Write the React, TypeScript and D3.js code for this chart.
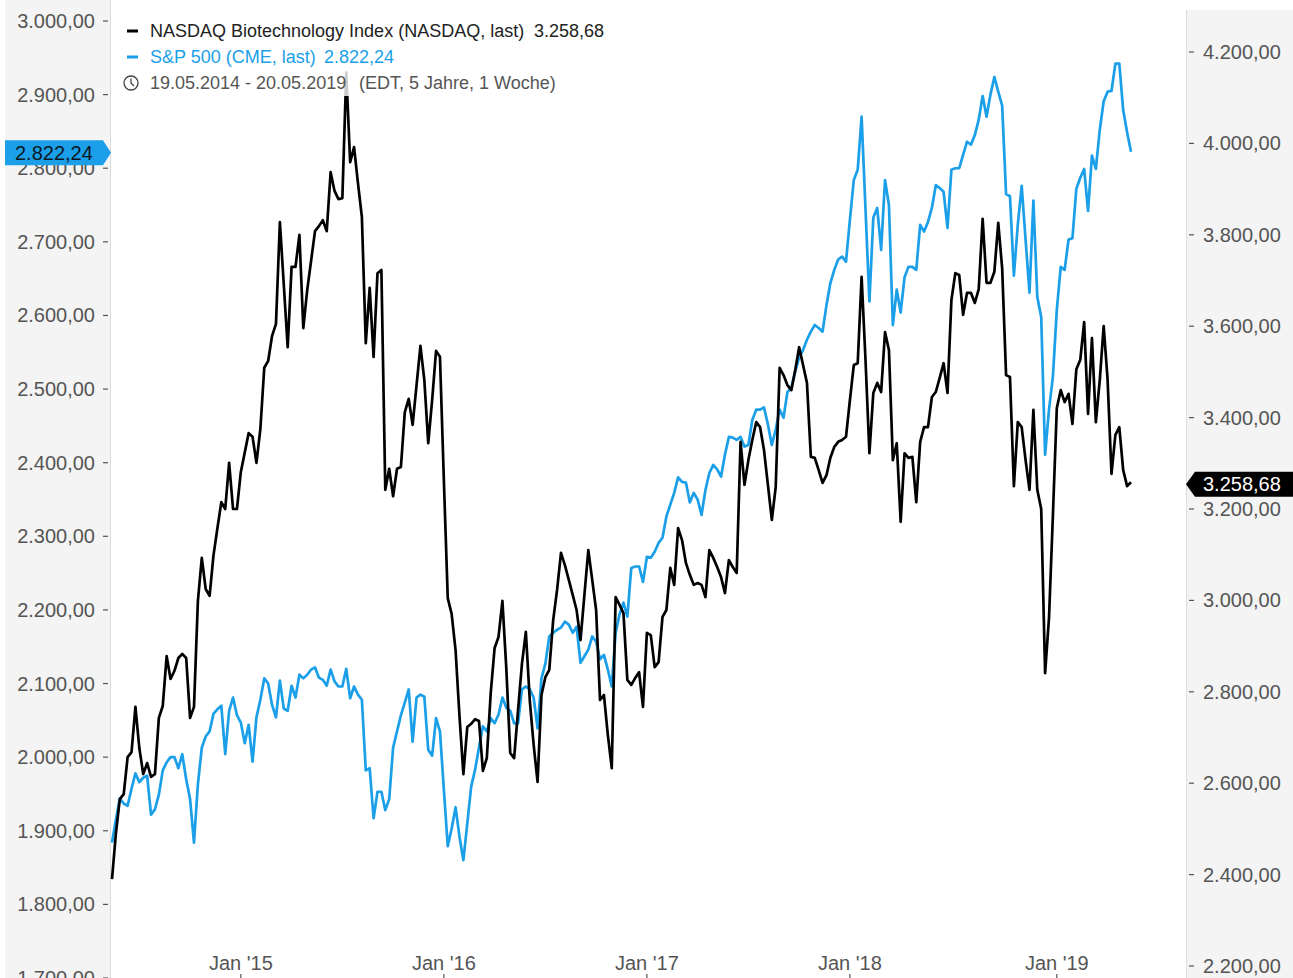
import React from "react";
import * as d3 from "d3";

// ---- Data (weekly closes, week index since 19.05.2014) ----
const NBI_WEEKS_VALUES: [number, number][] = [
  [0,2390],[1,2490],[2,2565],[3,2576],[4,2657],[5,2668],[6,2767],[7,2677],[8,2620],[9,2644],[10,2614],[11,2620],[12,2743],[13,2769],[14,2878],[15,2828],[16,2846],[17,2874],[18,2883],[19,2874],[20,2743],[21,2767],[22,2999],[23,3093],[24,3025],[25,3010],[26,3099],[27,3158],[28,3215],[29,3200],[30,3301],[31,3200],[32,3200],[33,3281],[35,3366],[36,3358],[37,3301],[38,3375],[39,3509],[40,3524],[41,3579],[42,3605],[43,3828],[45,3554],[46,3730],[47,3730],[48,3800],[49,3596],[50,3679],[52,3808],[53,3819],[54,3832],[55,3808],[56,3937],[57,3896],[58,3878],[59,3880],[60,4155],[61,3959],[62,3992],[63,3913],[64,3839],[65,3563],[66,3684],[67,3533],[68,3716],[69,3723],[70,3242],[71,3288],[72,3228],[73,3288],[74,3292],[75,3412],[76,3441],[77,3384],[79,3557],[80,3482],[81,3344],[82,3438],[83,3546],[84,3533],[85,3263],[86,3005],[87,2970],[88,2891],[89,2747],[90,2620],[91,2723],[92,2730],[93,2740],[94,2736],[95,2627],[96,2655],[97,2797],[98,2896],[99,2920],[100,2999],[101,2850],[102,2666],[103,2655],[104,2760],[105,2861],[106,2931],[107,2782],[108,2684],[109,2603],[110,2793],[111,2832],[112,2848],[113,2957],[114,3023],[115,3104],[116,3077],[117,3045],[118,3012],[119,2979],[120,2913],[121,3012],[122,3110],[123,3045],[124,2979],[125,2782],[126,2793],[127,2706],[128,2633],[129,3007],[130,2990],[131,2972],[132,2826],[133,2815],[134,2830],[135,2843],[136,2767],[137,2929],[138,2924],[139,2854],[140,2865],[141,2964],[142,2979],[143,3071],[144,3034],[145,3158],[146,3132],[147,3082],[148,3056],[149,3034],[150,3038],[151,3034],[152,3007],[153,3110],[154,3093],[155,3073],[156,3051],[157,3016],[158,3088],[159,3073],[160,3060],[161,3347],[162,3253],[163,3307],[164,3351],[165,3390],[166,3379],[167,3329],[168,3253],[169,3176],[170,3248],[171,3509],[172,3493],[173,3471],[174,3460],[175,3504],[176,3554],[177,3515],[178,3476],[179,3314],[180,3312],[181,3285],[182,3257],[183,3274],[184,3312],[185,3336],[186,3347],[187,3351],[188,3358],[189,3438],[190,3515],[191,3519],[192,3708],[193,3526],[194,3322],[195,3454],[196,3476],[197,3456],[198,3587],[199,3548],[200,3307],[201,3344],[202,3172],[203,3322],[204,3312],[205,3314],[206,3215],[207,3347],[208,3379],[209,3379],[210,3445],[211,3456],[212,3487],[213,3519],[214,3454],[215,3657],[216,3716],[217,3712],[218,3625],[219,3673],[220,3673],[221,3651],[222,3681],[223,3835],[224,3695],[225,3695],[226,3719],[227,3826],[228,3727],[229,3493],[230,3489],[231,3250],[232,3390],[233,3379],[234,3307],[235,3242],[236,3417],[237,3242],[238,3200],[239,2841],[240,2962],[241,3187],[242,3421],[243,3460],[244,3434],[245,3452],[246,3386],[247,3506],[248,3526],[249,3609],[250,3408],[251,3574],[252,3390],[253,3482],[254,3600],[255,3484],[256,3277],[257,3362],[258,3379],[259,3285],[260,3250],[261,3258.68]
];

const SP_WEEKS_VALUES: [number, number][] = [
  [0,1884],[1,1915],[2,1944],[3,1937],[4,1934],[5,1957],[6,1978],[7,1966],[8,1972],[9,1975],[10,1922],[11,1929],[12,1949],[13,1982],[14,1993],[15,2000],[16,2000],[17,1985],[18,2004],[19,1970],[20,1943],[21,1884],[22,1963],[23,2013],[24,2028],[25,2035],[26,2059],[27,2065],[28,2070],[29,2004],[30,2063],[31,2081],[32,2057],[33,2047],[34,2019],[35,2044],[36,1994],[37,2054],[38,2078],[39,2107],[40,2100],[41,2071],[42,2054],[43,2104],[44,2066],[45,2063],[46,2097],[47,2081],[48,2112],[49,2107],[50,2112],[51,2119],[52,2122],[53,2108],[54,2105],[55,2097],[56,2119],[57,2103],[58,2096],[59,2096],[60,2120],[61,2080],[62,2096],[63,2085],[64,2078],[65,1982],[66,1985],[67,1917],[68,1953],[69,1953],[70,1928],[71,1943],[72,2013],[73,2035],[74,2057],[75,2074],[76,2092],[77,2021],[78,2081],[79,2085],[80,2082],[81,2010],[82,2002],[83,2053],[84,2035],[85,1956],[86,1879],[87,1903],[88,1932],[89,1892],[90,1860],[91,1910],[92,1960],[93,1983],[94,2013],[95,2042],[96,2035],[97,2053],[98,2046],[99,2058],[100,2081],[101,2067],[102,2063],[103,2046],[104,2046],[105,2092],[106,2096],[107,2092],[108,2081],[109,2039],[110,2107],[111,2127],[112,2164],[113,2169],[114,2173],[115,2176],[116,2184],[117,2180],[118,2169],[119,2177],[120,2128],[121,2137],[122,2146],[123,2164],[124,2157],[125,2133],[126,2139],[127,2119],[128,2096],[129,2169],[130,2194],[131,2210],[132,2191],[133,2257],[134,2259],[135,2259],[136,2238],[137,2272],[138,2271],[139,2279],[140,2291],[141,2298],[142,2327],[143,2343],[144,2359],[145,2380],[146,2374],[147,2373],[148,2346],[149,2359],[150,2350],[151,2329],[152,2363],[153,2386],[154,2397],[155,2391],[156,2381],[157,2411],[158,2435],[159,2434],[160,2431],[161,2435],[162,2422],[163,2424],[164,2458],[165,2472],[166,2472],[167,2475],[168,2452],[169,2424],[170,2445],[171,2472],[172,2461],[173,2496],[174,2502],[175,2524],[176,2543],[177,2553],[178,2567],[179,2578],[180,2587],[181,2583],[182,2578],[183,2614],[184,2644],[185,2662],[186,2676],[187,2680],[188,2673],[189,2730],[190,2784],[191,2798],[192,2870],[194,2619],[195,2733],[196,2746],[197,2689],[198,2784],[199,2750],[200,2587],[201,2635],[202,2604],[203,2652],[204,2666],[205,2666],[206,2662],[207,2723],[208,2714],[209,2727],[210,2746],[211,2777],[212,2773],[213,2768],[214,2719],[215,2798],[216,2800],[217,2800],[218,2818],[219,2836],[220,2832],[221,2845],[222,2866],[223,2898],[224,2870],[225,2900],[226,2924],[227,2904],[228,2885],[229,2765],[230,2762],[231,2654],[232,2723],[233,2776],[234,2703],[235,2631],[236,2756],[237,2625],[238,2598],[239,2411],[240,2472],[241,2517],[242,2608],[243,2666],[244,2662],[245,2703],[246,2705],[247,2772],[248,2787],[249,2799],[250,2742],[251,2817],[252,2799],[253,2852],[254,2891],[255,2904],[256,2905],[257,2942],[258,2942],[259,2879],[260,2849],[261,2822.24]
];

const LEFT_TICKS = [1700, 1800, 1900, 2000, 2100, 2200, 2300, 2400, 2500, 2600, 2700, 2800, 2900, 3000];
const RIGHT_TICKS = [2200, 2400, 2600, 2800, 3000, 3200, 3400, 3600, 3800, 4000, 4200];
// first weekly bar of each January
const X_TICKS = ["2015-01-05", "2016-01-04", "2017-01-02", "2018-01-01", "2019-01-07"];

const START = new Date(2014, 4, 19);
const END = new Date(2019, 4, 20);
const NBI_LAST = 3258.68;
const SP_LAST = 2822.24;

const W = 1293;
const H = 978;
const BLUE = "#1a9fe8";
const FONT = "'Liberation Sans', Arial, sans-serif";

const de = d3.formatLocale({ decimal: ",", thousands: ".", grouping: [3], currency: ["", "€"] });
const fmt = de.format(",.2f");

const weekDate = (w: number) => d3.timeDay.offset(START, w * 7);
const parseDay = (s: string) => {
  const [y, m, d] = s.split("-").map(Number);
  return new Date(y, m - 1, d);
};

export default function App() {
  const x = d3.scaleTime().domain([START, END]).range([112, 1131]);
  const yL = d3.scaleLinear().domain([1700, 3000]).range([978, 21]);
  const yR = d3.scaleLinear().domain([2200, 4200]).range([966, 52]);

  const nbiLine = d3
    .line<[number, number]>()
    .x((d) => x(weekDate(d[0])))
    .y((d) => yR(d[1]));
  const spLine = d3
    .line<[number, number]>()
    .x((d) => x(weekDate(d[0])))
    .y((d) => yL(d[1]));

  const ySp = yL(SP_LAST) + 1;
  const yNbi = yR(NBI_LAST) + 2;

  const tickColor = "#555";
  const AX = 20;

  return (
    <svg
      width={W}
      height={H}
      style={{ position: "fixed", left: 0, top: 0, background: "#fff", fontFamily: FONT }}
    >
      <defs>
        <clipPath id="plot">
          <rect x={110} y={0} width={1076} height={H} />
        </clipPath>
      </defs>
      <rect x={0} y={0} width={W} height={H} fill="#fff" />

      {/* axis panels */}
      <rect x={5} y={0} width={105} height={H} fill="#f4f4f4" />
      <line x1={110.5} x2={110.5} y1={0} y2={H} stroke="#dcdcdc" />
      <rect x={1186} y={10} width={107} height={H - 10} fill="#f4f4f4" />
      <line x1={1186.5} x2={1186.5} y1={10} y2={H} stroke="#dcdcdc" />

      {/* lines */}
      <g clipPath="url(#plot)">
        <path d={spLine(SP_WEEKS_VALUES) || ""} fill="none" stroke={BLUE} strokeWidth={2.7} strokeLinejoin="round" />
        <path d={nbiLine(NBI_WEEKS_VALUES) || ""} fill="none" stroke="#000" strokeWidth={2.7} strokeLinejoin="round" />
      </g>

      {/* legend */}
      <rect x={116} y={14} width={454} height={82} fill="#fff" fillOpacity={0.8} />
      <g fontSize={18}>
        <rect x={127} y={29.5} width={11} height={3} fill="#000" />
        <text x={150} y={37} fill="#222">
          NASDAQ Biotechnology Index (NASDAQ, last)
          <tspan x={534}>3.258,68</tspan>
        </text>
        <rect x={127} y={55.5} width={11} height={3} fill={BLUE} />
        <text x={150} y={63} fill={BLUE}>
          S&amp;P 500 (CME, last)
          <tspan x={324}>2.822,24</tspan>
        </text>
        <circle cx={131} cy={83} r={7} fill="none" stroke="#444" strokeWidth={1.3} />
        <path d="M131,78.5 V83 L134,86" fill="none" stroke="#444" strokeWidth={1.3} />
        <text x={150} y={89} fill="#555">
          19.05.2014 - 20.05.2019
          <tspan x={359}>(EDT, 5 Jahre, 1 Woche)</tspan>
        </text>
      </g>

      {/* left axis */}
      <g fontSize={AX} fill={tickColor}>
        {LEFT_TICKS.map((t) => (
          <g key={t}>
            <text x={95} y={yL(t) + 7} textAnchor="end">
              {fmt(t)}
            </text>
            <line x1={103} x2={108} y1={yL(t)} y2={yL(t)} stroke={tickColor} strokeWidth={1.2} />
          </g>
        ))}
      </g>

      {/* right axis */}
      <g fontSize={AX} fill={tickColor}>
        {RIGHT_TICKS.map((t) => (
          <g key={t}>
            <line x1={1189} x2={1194} y1={yR(t)} y2={yR(t)} stroke={tickColor} strokeWidth={1.2} />
            <text x={1203} y={yR(t) + 7}>{fmt(t)}</text>
          </g>
        ))}
      </g>

      {/* x axis */}
      <g fontSize={AX} fill={tickColor}>
        {X_TICKS.map((s) => {
          const d = parseDay(s);
          const xx = x(d);
          return (
            <g key={s}>
              <text x={xx} y={970} textAnchor="middle">
                {d3.timeFormat("%b '%y")(d)}
              </text>
              <line x1={xx} x2={xx} y1={974} y2={978} stroke={tickColor} strokeWidth={1.2} />
            </g>
          );
        })}
      </g>

      {/* last value labels */}
      <path
        d={`M5,${ySp - 12.5} H103 L111,${ySp} L103,${ySp + 12.5} H5 Z`}
        fill={BLUE}
      />
      <text x={15} y={ySp + 7} fontSize={AX} fill="#0b1722">
        {fmt(SP_LAST)}
      </text>
      <path
        d={`M1186,${yNbi} L1195,${yNbi - 12.5} H1293 V${yNbi + 12.5} H1195 Z`}
        fill="#000"
      />
      <text x={1203} y={yNbi + 7} fontSize={AX} fill="#fff">
        {fmt(NBI_LAST)}
      </text>
    </svg>
  );
}
